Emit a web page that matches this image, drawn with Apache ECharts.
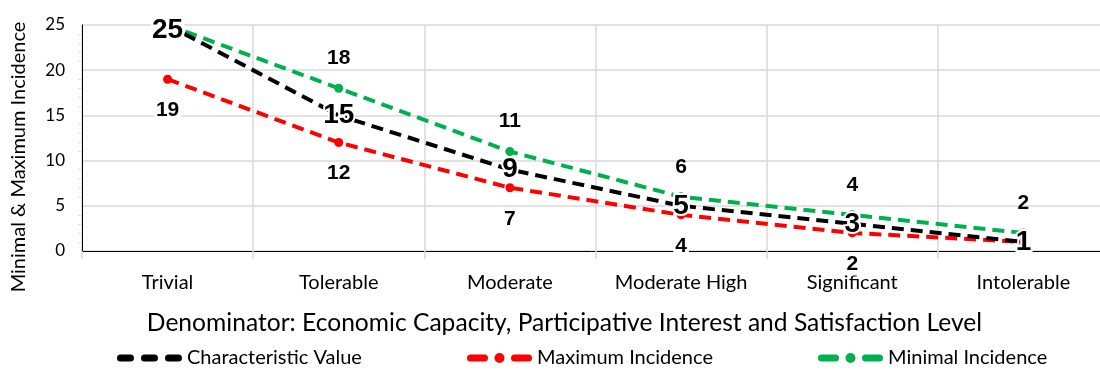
<!DOCTYPE html>
<html><head><meta charset="utf-8">
<script src="https://cdn.jsdelivr.net/npm/echarts@6/dist/echarts.min.js"></script>
<style>html,body{margin:0;padding:0;background:#fff}#c{width:1100px;height:370px}</style>
</head><body><div id="c"></div>
<script>
const categories = ['Trivial','Tolerable','Moderate','Moderate High','Significant','Intolerable'];
const characteristicValue = [25,15,9,5,3,1];
const maximumIncidence = [19,12,7,4,2,1];
const minimalIncidence = [25,18,11,6,4,2];
const yTicks = {min:0, max:25, interval:5};
const seriesNames = ['Characteristic Value','Maximum Incidence','Minimal Incidence'];

const txtFont = 'Lato, "Open Sans", sans-serif';
const lblFont = '"Liberation Sans", Arial, sans-serif';

function dash(a,b,y0,h){
  const r=h/2, y1=y0+h;
  return `M${a+r},${y0}H${b-r}A${r},${r} 0 0 1 ${b-r},${y1}H${a+r}A${r},${r} 0 0 1 ${a+r},${y0}Z`;
}
const iconDashes = 'path://' + dash(0,17,0,7) + dash(24,41,0,7) + dash(48,65,0,7);
const iconDot = 'path://' + dash(0,21,1.5,7) + 'M27.5,5A5,5 0 1 1 37.5,5A5,5 0 1 1 27.5,5Z' + dash(44,65,1.5,7);

const chart = echarts.init(document.getElementById('c'));
function legendAt(name, icon, left, h){
  return {data:[{name:name, icon:icon}], left:left, top:343, itemWidth:65, itemHeight:h, itemGap:8,
    textStyle:{fontFamily:txtFont, fontSize:20, color:'#000', padding:[0,0,0,0]}};
}
chart.setOption({
  animation:false,
  grid:{left:82, width:1027, top:25, height:226, outerBoundsMode:'none', containLabel:false},
  legend:[legendAt(seriesNames[0],iconDashes,112,7), legendAt(seriesNames[1],iconDot,462,10), legendAt(seriesNames[2],iconDot,813,10)],
  xAxis:{type:'category', data:categories, boundaryGap:true,
    name:'Denominator: Economic Capacity, Participative Interest and Satisfaction Level',
    nameLocation:'middle', nameGap:60,
    nameTextStyle:{fontFamily:txtFont, fontSize:24.6, color:'#000', padding:[0,62,0,0]},
    axisLine:{lineStyle:{color:'#000', width:1}},
    axisTick:{show:true, interval:0, length:8, lineStyle:{color:'#d9d9d9', width:1.5}},
    axisLabel:{interval:0, hideOverlap:false, fontFamily:txtFont, fontSize:20, color:'#000', margin:22},
    splitLine:{show:true, interval:0, lineStyle:{color:'#d9d9d9', width:1.5}}
  },
  yAxis:{type:'value', min:yTicks.min, max:yTicks.max, interval:yTicks.interval,
    name:'Minimal & Maximum Incidence', nameLocation:'middle', nameGap:53,
    nameTextStyle:{fontFamily:txtFont, fontSize:20, color:'#000', padding:[0,38,0,0]},
    axisLine:{show:true, lineStyle:{color:'#000', width:1}},
    axisTick:{show:false},
    minorTick:{show:true, splitNumber:5, length:4, lineStyle:{color:'#e0e0e0'}},
    axisLabel:{fontFamily:txtFont, fontSize:17, color:'#000', margin:17},
    splitLine:{show:true, lineStyle:{color:'#d9d9d9', width:1.5}}
  },
  series:[
    {name:seriesNames[1], type:'line', data:maximumIncidence, z:2,
      symbol:'circle', symbolSize:9, showSymbol:true,
      itemStyle:{color:'#ff0000'},
      lineStyle:{color:'#ff0000', width:4, type:[12,7]},
      label:{show:true, position:'bottom', distance:15, fontFamily:lblFont, fontWeight:'bold', fontSize:21, color:'#000',
        backgroundColor:'#fff', padding:[1,2],
        formatter:p=>p.dataIndex===5?'':p.value}
    },
    {name:seriesNames[2], type:'line', data:minimalIncidence, z:3,
      symbol:'circle', symbolSize:9, showSymbol:true,
      itemStyle:{color:'#00b050'},
      lineStyle:{color:'#00b050', width:4, type:[12,7]},
      label:{show:true, position:'top', distance:15, fontFamily:lblFont, fontWeight:'bold', fontSize:21, color:'#000',
        formatter:p=>p.dataIndex===0?'':p.value}
    },
    {name:seriesNames[0], type:'line', z:4,
      data:characteristicValue.map((v,i)=> i===0 ? {value:v, label:{backgroundColor:'#fff', padding:[0,1], offset:[0,5]}} : v),
      symbol:'circle', symbolSize:1, showSymbol:true,
      itemStyle:{color:'#000'},
      lineStyle:{color:'#000', width:4, type:[12,7]},
      label:{show:true, position:'inside', fontFamily:lblFont, fontWeight:'bold', fontSize:28, color:'#000',
        textBorderColor:'#fff', textBorderWidth:4}
    }
  ]
});
</script></body></html>
